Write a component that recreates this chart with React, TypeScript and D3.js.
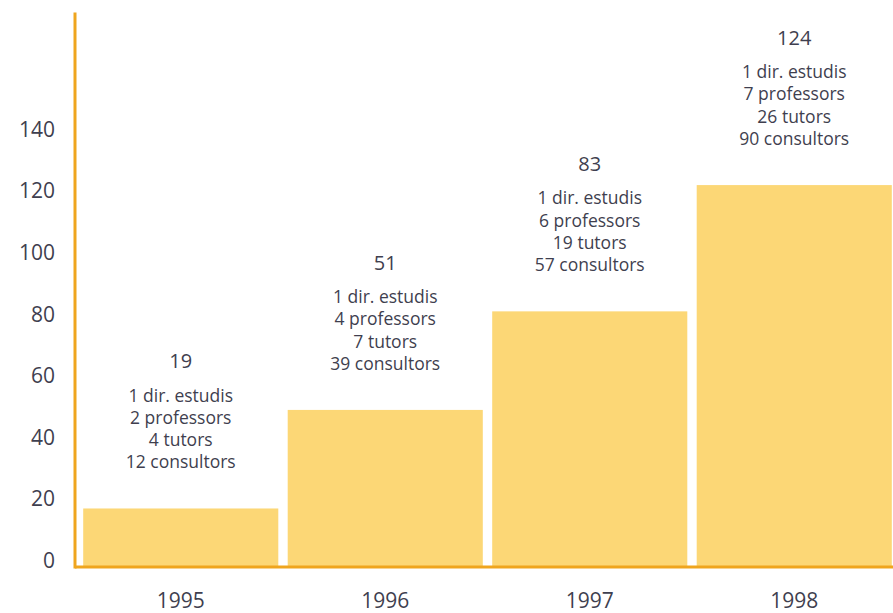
import React from "react";
import * as d3 from "d3";

const years = ["1995", "1996", "1997", "1998"];
const totals = [19, 51, 83, 124];
const directors = [1, 1, 1, 1];
const professors = [2, 4, 6, 7];
const tutors = [4, 7, 19, 26];
const consultors = [12, 39, 57, 90];
const yTicks = [0, 20, 40, 60, 80, 100, 120, 140];

const W = 893;
const H = 613;
const FONT = "'Open Sans', 'Noto Sans', sans-serif";
const TEXT = "#3f3f4f";
const BAR = "#FCD776";
const AXIS = "#EFA51E";

export default function App() {
  const y = d3.scaleLinear().domain([0, 140]).range([567, 567 - 140 * 3.08]);
  const x = d3
    .scaleBand<string>()
    .domain(years)
    .range([78.5, 896.5])
    .paddingInner(0.046)
    .paddingOuter(0.023);
  const axisX = 75;
  const bw = x.bandwidth();
  const lineGap = 22.3;

  return (
    <svg
      width={W}
      height={H}
      style={{ position: "absolute", left: 0, top: 0, background: "#fff" }}
      fontFamily={FONT}
    >
      {years.map((yr, i) => (
        <rect
          key={yr}
          x={x(yr)}
          y={y(totals[i])}
          width={bw}
          height={y(0) - y(totals[i])}
          fill={BAR}
        />
      ))}
      <line x1={axisX} x2={W} y1={y(0)} y2={y(0)} stroke={AXIS} strokeWidth={3} />
      <line x1={axisX} x2={axisX} y1={y(0) + 1.5} y2={y(180)} stroke={AXIS} strokeWidth={3} />
      {yTicks.map((t) => (
        <text
          key={t}
          x={55}
          y={y(t) - 7}
          textAnchor="end"
          dominantBaseline="central"
          fontSize={21}
          fill={TEXT}
        >
          {t}
        </text>
      ))}
      {years.map((yr, i) => {
        const cx = (x(yr) as number) + bw / 2;
        const lastY = y(totals[i]) - 47;
        const lines = [
          `${directors[i]} dir. estudis`,
          `${professors[i]} professors`,
          `${tutors[i]} tutors`,
          `${consultors[i]} consultors`,
        ];
        const firstY = lastY - lineGap * 3;
        return (
          <g key={yr}>
            <text
              x={cx}
              y={firstY - 34}
              textAnchor="middle"
              dominantBaseline="central"
              fontSize={20}
              fill={TEXT}
            >
              {totals[i]}
            </text>
            {lines.map((l, j) => (
              <text
                key={j}
                x={cx}
                y={firstY + j * lineGap}
                textAnchor="middle"
                dominantBaseline="central"
                fontSize={17.5}
                fill={TEXT}
              >
                {l}
              </text>
            ))}
            <text
              x={cx}
              y={600}
              textAnchor="middle"
              dominantBaseline="central"
              fontSize={21}
              fill={TEXT}
            >
              {yr}
            </text>
          </g>
        );
      })}
    </svg>
  );
}
